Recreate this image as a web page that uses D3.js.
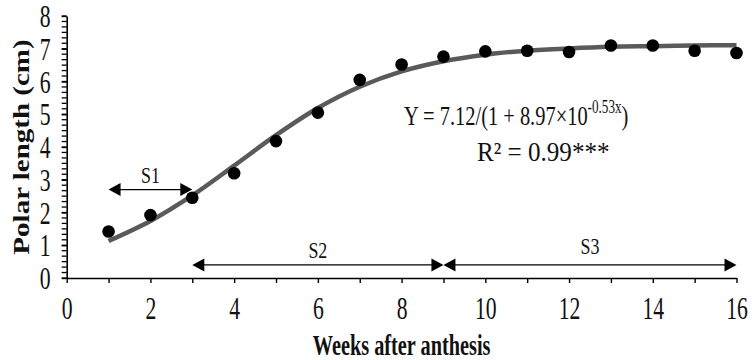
<!DOCTYPE html>
<html><head><meta charset="utf-8">
<script src="https://cdn.jsdelivr.net/npm/d3@7"></script>
<style>
html,body{margin:0;padding:0;background:#fff;}
svg{display:block;}
</style></head>
<body>
<svg id="chart" width="753" height="360"></svg>
<script>
// ---- data ----
const weeks = [1,2,3,4,5,6,7,8,9,10,11,12,13,14,15,16];
const polarLength = [1.42,1.92,2.45,3.2,4.18,5.05,6.05,6.52,6.76,6.92,6.94,6.9,7.1,7.1,6.94,6.87];
// fitted logistic curve values read at each week
const fittedValues = [1.13,1.74,2.52,3.43,4.36,5.19,5.84,6.31,6.62,6.82,6.94,7.01,7.06,7.08,7.10,7.11];
const xTicks = [0,1,2,3,4,5,6,7,8,9,10,11,12,13,14,15,16];
const yTicks = [0,1,2,3,4,5,6,7,8];
const stages = [
  {name:"S1", from:1, to:3, y:2.7, labelX:2, labelY:2.9},
  {name:"S2", from:3, to:9, y:0.4, labelX:6, labelY:0.62},
  {name:"S3", from:9, to:16, y:0.4, labelX:12.5, labelY:0.72}
];
const equationMain = "Y = 7.12/(1 + 8.97×10";
const equationSup = "-0.53x";
const equationEnd = ")";
const r2Text = "R² = 0.99***";

// ---- layout ----
const svg = d3.select("#chart");
const x = d3.scaleLinear().domain([0,16]).range([66.7,736.5]);
const y = d3.scaleLinear().domain([0,8]).range([278,16]);
const serif = "'Liberation Serif','Times New Roman',serif";

// axes
const xAxis = d3.axisBottom(x).tickValues(xTicks).tickSize(5).tickSizeOuter(0)
  .tickFormat(d => d % 2 === 0 ? d : "");
const gx = svg.append("g").attr("transform", `translate(0,${y(0)})`).call(xAxis);
gx.select(".domain").attr("stroke","#000").attr("stroke-width",1.6);
gx.selectAll(".tick line").attr("stroke","#000").attr("stroke-width",1.4);
gx.selectAll(".tick text").attr("font-family",serif).attr("font-size",31).attr("fill","#111")
  .attr("y",0).attr("dy",0).attr("transform",`translate(0,41) scale(0.7,1)`);

// y minor ticks (6 per unit)
const yMinor = d3.range(0, 8.0001, 1/6);
svg.append("g").selectAll("line").data(yMinor).join("line")
  .attr("x1", x(0)-5).attr("x2", x(0)).attr("y1", d=>y(d)).attr("y2", d=>y(d))
  .attr("stroke","#000").attr("stroke-width",1.3);
const yAxis = d3.axisLeft(y).tickValues(yTicks).tickSize(5).tickSizeOuter(0).tickFormat(d=>d);
const gy = svg.append("g").attr("transform", `translate(${x(0)},0)`).call(yAxis);
gy.select(".domain").attr("stroke","#000").attr("stroke-width",1.6);
gy.selectAll(".tick line").attr("stroke","#000").attr("stroke-width",1.4);
gy.selectAll(".tick text").attr("font-family",serif).attr("font-size",31).attr("fill","#111")
  .attr("x",0).attr("dy",0).attr("text-anchor","end")
  .attr("transform",`translate(-16,10.5) scale(0.7,1)`);

// axis titles
svg.append("text").attr("font-family",serif).attr("font-weight","bold").attr("font-size",29)
  .attr("text-anchor","middle").attr("fill","#111")
  .attr("transform",`translate(29,${y(4)}) rotate(-90) scale(1,0.78)`)
  .text("Polar length (cm)");
svg.append("text").attr("font-family",serif).attr("font-weight","bold").attr("font-size",29)
  .attr("text-anchor","middle").attr("fill","#111")
  .attr("transform",`translate(${x(8)},355) scale(0.7,1)`)
  .text("Weeks after anthesis");

// fitted curve
const line = d3.line().x((d,i)=>x(weeks[i])).y(d=>y(d)).curve(d3.curveCatmullRom);
svg.append("path").datum(fittedValues).attr("d", line)
  .attr("fill","none").attr("stroke","#5a5a5a").attr("stroke-width",4.5);

// points
svg.append("g").selectAll("circle").data(polarLength).join("circle")
  .attr("cx",(d,i)=>x(weeks[i])).attr("cy",d=>y(d)).attr("r",6.3).attr("fill","#000");

// stage arrows
const head = 12, half = 6.5;
const ga = svg.append("g");
stages.forEach(s => {
  const x1 = x(s.from), x2 = x(s.to), yy = y(s.y);
  ga.append("line").attr("x1",x1+head-1).attr("x2",x2-head+1).attr("y1",yy).attr("y2",yy)
    .attr("stroke","#000").attr("stroke-width",1.4);
  ga.append("path").attr("d",`M${x1},${yy} L${x1+head},${yy-half} L${x1+head},${yy+half} Z`).attr("fill","#000");
  ga.append("path").attr("d",`M${x2},${yy} L${x2-head},${yy-half} L${x2-head},${yy+half} Z`).attr("fill","#000");
  ga.append("text").attr("font-family",serif).attr("font-size",23).attr("text-anchor","middle").attr("fill","#111")
    .attr("transform",`translate(${x(s.labelX)},${y(s.labelY)}) scale(0.78,1)`).text(s.name);
});

// equation
const eq = svg.append("text").attr("font-family",serif).attr("font-size",28).attr("fill","#111")
  .attr("transform",`translate(404,125) scale(0.73,1)`);
eq.append("tspan").text(equationMain);
eq.append("tspan").attr("font-size",18).attr("dy",-12).text(equationSup);
eq.append("tspan").attr("dy",12).text(equationEnd);
svg.append("text").attr("font-family",serif).attr("font-size",27).attr("fill","#111")
  .attr("transform",`translate(477,161) scale(0.93,1)`).text(r2Text);
</script>
</body></html>
